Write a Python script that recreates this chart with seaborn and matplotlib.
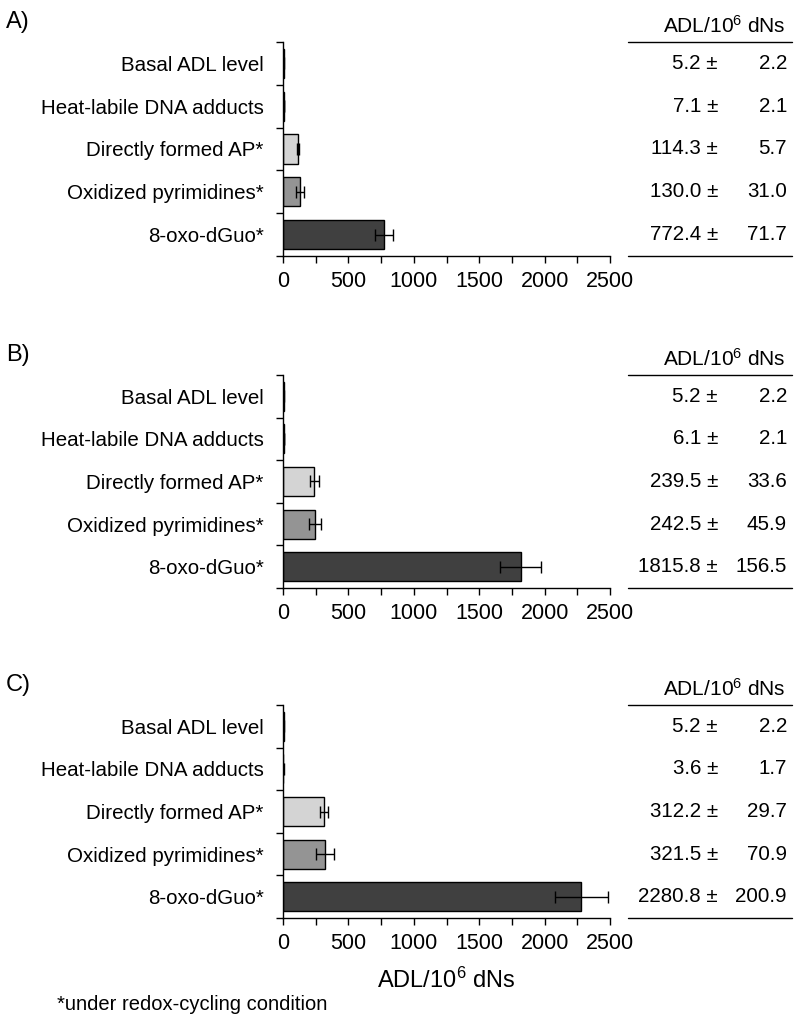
import numpy as np
import pandas as pd
import matplotlib
matplotlib.use("Agg")
import matplotlib.pyplot as plt
import matplotlib.ticker as ticker
import matplotlib.transforms as mtrans
import seaborn as sns

categories = ["Basal ADL level", "Heat-labile DNA adducts", "Directly formed AP*",
              "Oxidized pyrimidines*", "8-oxo-dGuo*"]
bar_colors = ["#ffffff", "#ffffff", "#d4d4d4", "#949494", "#404040"]

panel_letters = ["A)", "B)", "C)"]
means_a = [5.2, 7.1, 114.3, 130.0, 772.4]
sd_a = [2.2, 2.1, 5.7, 31.0, 71.7]
means_b = [5.2, 6.1, 239.5, 242.5, 1815.8]
sd_b = [2.2, 2.1, 33.6, 45.9, 156.5]
means_c = [5.2, 3.6, 312.2, 321.5, 2280.8]
sd_c = [2.2, 1.7, 29.7, 70.9, 200.9]

x_ticks = [0, 500, 1000, 1500, 2000, 2500]
axis_label = "ADL/10$^{6}$ dNs"
footnote = "*under redox-cycling condition"

W, H = 800, 1033
sns.set_style("ticks")
plt.rcParams["font.family"] = ["Liberation Sans", "DejaVu Sans"]
plt.rcParams["mathtext.fontset"] = "custom"
plt.rcParams["mathtext.rm"] = "Liberation Sans"
plt.rcParams["mathtext.default"] = "regular"
for key in ["text.color", "axes.labelcolor", "xtick.color", "ytick.color", "axes.edgecolor"]:
    plt.rcParams[key] = "black"

fig = plt.figure(figsize=(W / 100, H / 100), dpi=100)

# pixel boxes (top, bottom) of each panel's plot area
panel_tops = [42, 375, 705]
panel_bottoms = [256, 588, 918]
x_left, x_right = 283, 610

datasets = [(means_a, sd_a), (means_b, sd_b), (means_c, sd_c)]

for i, (means, sds) in enumerate(datasets):
    top, bot = panel_tops[i], panel_bottoms[i]
    ax = fig.add_axes([x_left / W, 1 - bot / H, (x_right - x_left) / W, (bot - top) / H])
    df = pd.DataFrame({"cat": categories, "mean": means, "sd": sds})
    sns.barplot(data=df, x="mean", y="cat", hue="cat", palette=bar_colors, order=categories,
                hue_order=categories, legend=False, width=0.68, edgecolor="black",
                linewidth=1, ax=ax, errorbar=None)
    ax.errorbar(df["mean"], np.arange(len(categories)), xerr=df["sd"], fmt="none",
                ecolor="black", elinewidth=1, capsize=4, capthick=1)

    ax.set_xlim(0, 2500)
    ax.set_ylim(4.5, -0.5)
    ax.xaxis.set_major_locator(ticker.FixedLocator(x_ticks))
    ax.xaxis.set_minor_locator(ticker.MultipleLocator(250))
    ax.tick_params(axis="x", which="both", direction="out", length=5, width=1,
                   labelsize=15.5, pad=6, colors="black")
    # y ticks at category boundaries, labels at centers
    ax.yaxis.set_major_locator(ticker.FixedLocator(np.arange(-0.5, 5, 1.0)))
    ax.yaxis.set_major_formatter(ticker.NullFormatter())
    ax.yaxis.set_minor_locator(ticker.FixedLocator(np.arange(5)))
    ax.yaxis.set_minor_formatter(ticker.FixedFormatter(categories))
    ax.tick_params(axis="y", which="major", direction="out", length=5, width=1)
    ax.tick_params(axis="y", which="minor", length=0, labelsize=14.8, pad=14)
    ax.set_xlabel("")
    ax.set_ylabel("")
    sns.despine(ax=ax)
    for s in ["left", "bottom"]:
        ax.spines[s].set_linewidth(1)
        ax.spines[s].set_color("black")

    # panel letter
    fig.text(6 / W, 1 - (top - 20) / H, panel_letters[i], fontsize=17, ha="left", va="center")

    # side table
    tr = mtrans.blended_transform_factory(fig.transFigure, ax.transData)
    tra = mtrans.blended_transform_factory(fig.transFigure, ax.transAxes)
    ax.plot([628 / W, 792 / W], [1, 1], transform=tra, color="black", lw=1, clip_on=False)
    ax.plot([628 / W, 792 / W], [0, 0], transform=tra, color="black", lw=1, clip_on=False)
    ax.text(786 / W, 1 + 16 / (bot - top), axis_label, transform=tra, ha="right", va="center",
            fontsize=15)
    for j in range(len(categories)):
        ax.text(718 / W, j, f"{means[j]:.1f} \u00b1", transform=tr, ha="right", va="center",
                fontsize=14.8)
        ax.text(787 / W, j, f"{sds[j]:.1f}", transform=tr, ha="right", va="center",
                fontsize=14.8)

    if i == 2:
        ax.set_xlabel(axis_label, fontsize=17, labelpad=10)

fig.text(57 / W, 1 - 1005 / H, footnote, fontsize=14.5, ha="left", va="center")

fig.savefig("out.png", dpi=100)
